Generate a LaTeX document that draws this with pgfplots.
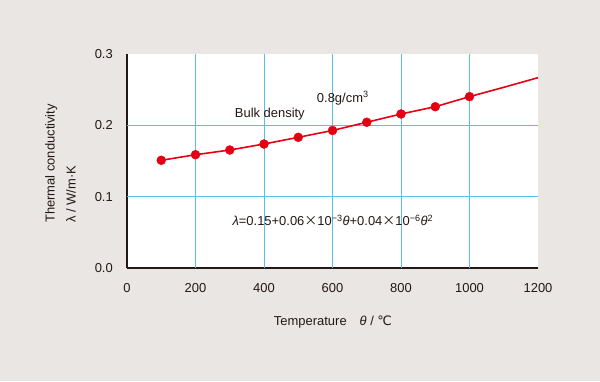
\documentclass[border=0pt]{standalone}
\usepackage{fontspec}
\setmainfont{Liberation Sans}
\newfontfamily\dejavu{DejaVu Sans}
\newfontfamily\cjk{Noto Sans CJK JP}
\usepackage{pgfplots}
\pgfplotsset{compat=1.18}
\definecolor{bgc}{RGB}{233,230,227}
\definecolor{gridc}{RGB}{90,190,232}
\definecolor{redc}{RGB}{228,0,18}
\definecolor{txt}{RGB}{35,24,21}
\begin{document}
\begin{tikzpicture}[x=1bp,y=1bp]
\fill[bgc] (0,0) rectangle (600,381);
\begin{axis}[
  at={(127bp,113bp)}, anchor=south west,
  scale only axis, width=411bp, height=214bp,
  xmin=0, xmax=1200, ymin=0, ymax=0.3,
  axis lines*=left,
  axis line style={txt, line width=1.5pt},
  axis background/.style={fill=white},
  xtick={0,200,...,1200}, ytick={0,0.1,0.2,0.3},
  extra x ticks={200,400,600,800,1000},
  extra y ticks={0.1,0.2},
  extra x tick labels={}, extra y tick labels={},
  extra tick style={grid=major, major grid style={gridc, line width=0.8pt}},
  major tick length=0pt,
  /pgf/number format/assume math mode=true,
  x tick label style={/pgf/number format/1000 sep={}, font=\fontsize{13}{15}\selectfont, text=txt, inner sep=0pt, anchor=north, yshift=-15bp},
  y tick label style={/pgf/number format/.cd, fixed, fixed zerofill, precision=1, /tikz/.cd, font=\fontsize{13}{15}\selectfont, text=txt, inner sep=0pt, anchor=east, xshift=-14bp},
  clip=false,
]
\addplot[redc, line width=1.6pt] coordinates {
  (100,0.151) (200,0.1588) (300,0.1654) (400,0.1738) (500,0.1832) (600,0.1928)
  (700,0.2043) (800,0.2159) (900,0.2261) (1000,0.2402) (1100,0.2533) (1200,0.2668)
};
\addplot[only marks, mark=*, mark size=4.5pt, mark options={fill=redc, draw=redc}] coordinates {
  (100,0.151) (200,0.1588) (300,0.1654) (400,0.1738) (500,0.1832) (600,0.1928)
  (700,0.2043) (800,0.2159) (900,0.2261) (1000,0.2402)
};
\node[font=\fontsize{13}{15}\selectfont, text=txt] at (axis cs:630,0.238) {0.8g/cm\textsuperscript{3}};
\node[font=\fontsize{13}{15}\selectfont, text=txt] at (axis cs:417,0.216) {Bulk density};
\node[font=\fontsize{13}{15}\selectfont, text=txt] at (axis cs:601,0.067) {\textit{λ}=0.15+0.06{\cjk ×}10\textsuperscript{−3}\textit{θ}+0.04{\cjk ×}10\textsuperscript{−6}\textit{θ}\textsuperscript{2}};
\end{axis}
\node[font=\fontsize{13}{15}\selectfont, text=txt] at (333,59) {Temperature\hspace{1em}\textit{θ} / {\dejavu ℃}};
\node[rotate=90, anchor=north west, align=left, font=\fontsize{13}{21}\selectfont, text=txt, inner sep=0pt] at (45,158) {Thermal conductivity\\λ / W/m·K};
\end{tikzpicture}
\end{document}
